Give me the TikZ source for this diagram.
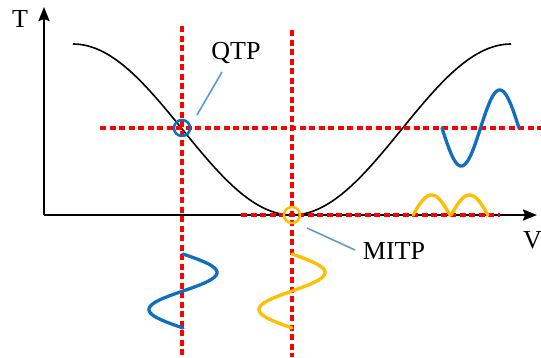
\documentclass[tikz,border=0pt]{standalone}
\usepackage{fontspec}
\setmainfont{Liberation Serif}
\usetikzlibrary{arrows.meta}
\definecolor{wblue}{RGB}{16,110,190}
\definecolor{lblue}{RGB}{91,155,213}
\definecolor{wyel}{RGB}{255,190,0}
\definecolor{wred}{RGB}{255,0,0}
\tikzset{
  axisline/.style={line width=2.2pt, -{Stealth[length=14pt,width=11pt,inset=2pt]}},
  curveline/.style={line width=1.6pt, black},
  reddash/.style={wred, line width=3.4pt, dash pattern=on 6pt off 3.5pt},
  wave/.style={line width=3.3pt, line cap=round, samples=120, smooth},
  ring/.style={circle, draw, line width=2.5pt, minimum size=16pt, inner sep=0pt},
  leader/.style={lblue, line width=1.6pt},
  lab/.style={font=\fontsize{26}{29}\selectfont, inner sep=0pt},
}
\begin{document}
\begin{tikzpicture}[x=1pt,y=-1pt]
\useasboundingbox (0,0) rectangle (541,357);
% axes
\coordinate (O) at (44,215);
\coordinate (ytip) at (44,7);
\coordinate (xtip) at (537,215);
\draw[axisline] (O) -- (ytip);
\draw[axisline] (O) -- (xtip);
\node[lab, anchor=base] (tlab) at (20,27) {T};
\node[lab, anchor=base east] (vlab) at (542,248) {V};
% main curve
\draw[curveline] plot[domain=73:511, samples=150, smooth] (\x, {129.5-85.5*cos((\x-73)/219*180)});
% red dashed lines
\coordinate (v1t) at (182,26);
\coordinate (v1b) at (182,357);
\coordinate (v2t) at (292,30);
\coordinate (v2b) at (292,357);
\coordinate (h1l) at (100,128);
\coordinate (h1r) at (541,128);
\coordinate (h2l) at (241,215);
\coordinate (h2r) at (500,215);
\draw[reddash] (v1t) -- (v1b);
\draw[reddash] (v2t) -- (v2b);
\draw[reddash] (h1l) -- (h1r);
\draw[reddash] (h2l) -- (h2r);
% rings
\node[ring, draw=wblue] (qtp) at (182,128) {};
\node[ring, draw=wyel] (mitp) at (292,215) {};
% labels and leaders
\node[lab, anchor=base] (qlab) at (236,59) {QTP};
\node[lab, anchor=base] (mlab) at (394,259) {MITP};
\coordinate (qa) at (197,115);
\coordinate (qb) at (222,72);
\coordinate (ma) at (307,228);
\coordinate (mb) at (355,250);
\draw[leader] (qa) -- (qb);
\draw[leader] (ma) -- (mb);
% right blue wave
\draw[wave, wblue] plot[domain=442:519] (\x, {128+38*sin((\x-442)/77*360)});
% yellow bumps on axis
\draw[wave, wyel] plot[domain=413:450] (\x, {215-20*sin((\x-413)/37*180)});
\draw[wave, wyel] plot[domain=451:488] (\x, {215-20*sin((\x-451)/37*180)});
% bottom waves
\draw[wave, wblue] plot[domain=254:328, variable=\t] ({183+34*sin((\t-254)/74*360)}, \t);
\draw[wave, wyel] plot[domain=254:328, variable=\t] ({292+33*sin((\t-254)/74*360)}, \t);
\end{tikzpicture}
\end{document}
